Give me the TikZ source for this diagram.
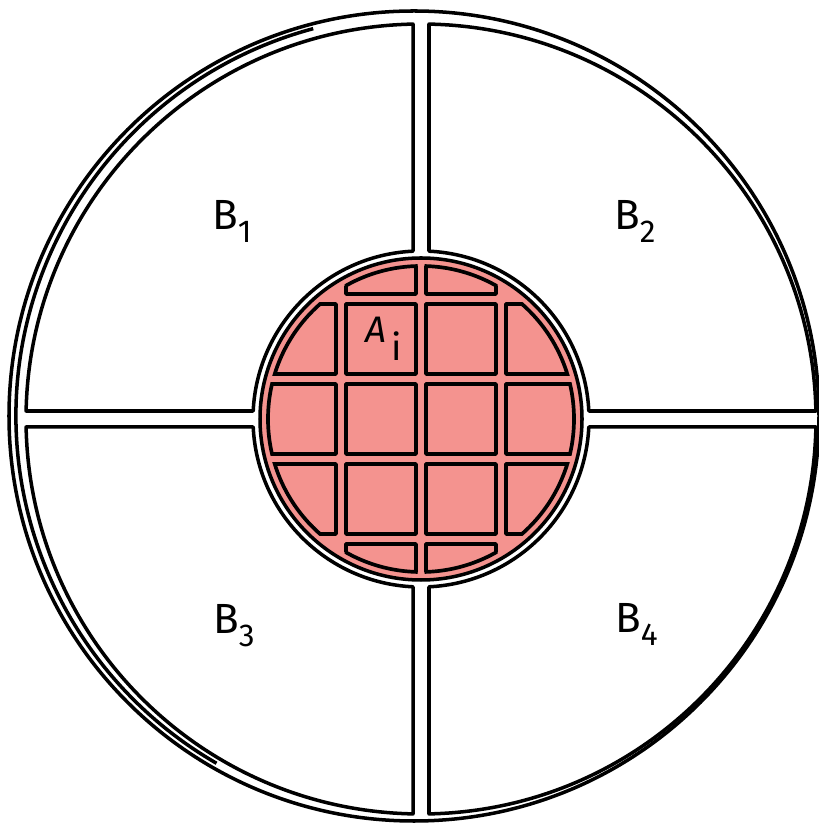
\documentclass[tikz,border=0pt]{standalone}
\usepackage{fontspec}
\setmainfont{Fira Sans}
\usetikzlibrary{calc}
\definecolor{cellred}{HTML}{F4938F}

\begin{document}
\begin{tikzpicture}[x=0.02cm, y=0.02cm, line join=round]
  \tikzset{rim/.style={draw=black, line width=2pt},
    cellline/.style={draw=black, line width=2.1pt},
    btext/.style={inner sep=0pt, anchor=base west, font=\fontsize{24}{24}\selectfont},
    atext/.style={inner sep=0pt, anchor=base west, font=\fontsize{21}{21}\selectfont}}
  \useasboundingbox (0,0) rectangle (818,824);
  % outer rim, with a second sketchy stroke on the left
  \draw[rim] (414,408) circle[radius=405];
  \draw[rim] (417,408) ++(105:401) arc[start angle=105, end angle=240, radius=401];
  % the four B quadrants
  \coordinate (c) at (421,405);
  \foreach \q in {0,90,180,270}
    \draw[rim] ($(c)+({\q+1.16}:395)$) arc[start angle={\q+1.16}, end angle={\q+88.84}, radius=395]
      -- ($(c)+({\q+87.27}:168)$) arc[start angle={\q+87.27}, end angle={\q+2.73}, radius=168] -- cycle;
  % disc A and its cells
  \fill[cellred, draw=black, line width=2pt] (c) circle[radius=161];
  \begin{scope}[shift={(c)}]
    \foreach \j/\i in {-1/2,0/2,-2/1,-1/1,0/1,1/1,-2/0,-1/0,0/0,1/0,-2/-1,-1/-1,0/-1,1/-1,-1/-2,0/-2} {
      \begin{scope}
        \clip ({5+80*\j-1.5},{-35+80*\i-1.5}) rectangle ++(73,73);
        \draw[cellline] (0,0) circle[radius=153];
      \end{scope}
      \begin{scope}
        \clip (0,0) circle[radius=153.5];
        \draw[cellline] ({5+80*\j},{-35+80*\i}) rectangle ++(70,70);
      \end{scope}
    }
  \end{scope}
  % labels
  \node[btext] (b1) at (212,594) {B\raisebox{-7.4pt}{\fontsize{18}{18}\selectfont 1}};
  \node[btext] (b2) at (614,594) {B\raisebox{-7.4pt}{\fontsize{18}{18}\selectfont 2}};
  \node[btext] (b3) at (213,190) {B\raisebox{-7.4pt}{\fontsize{18}{18}\selectfont 3}};
  \node[btext] (b4) at (615,191) {B\raisebox{-7.4pt}{\fontsize{18}{18}\selectfont 4}};
  \node[atext] (ai) at (365,481) {\itshape A\kern3pt\raisebox{-10pt}{\upshape i}};
\end{tikzpicture}
\end{document}
